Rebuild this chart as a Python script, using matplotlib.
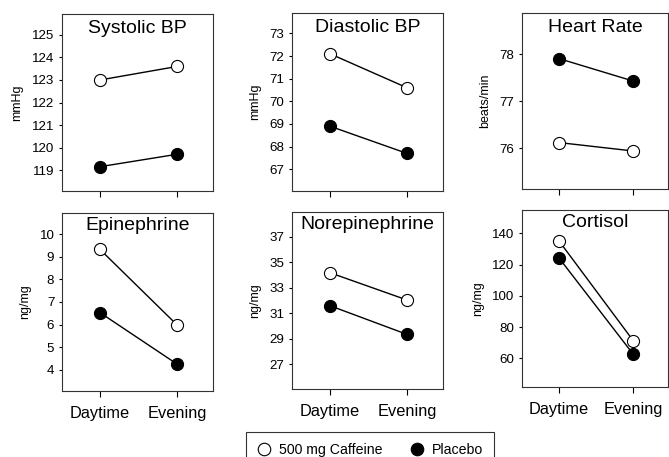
"""
    Caffeine vs placebo: daytime / evening means
"""

import matplotlib
matplotlib.use("Agg")
import matplotlib.pyplot as plt
from matplotlib.lines import Line2D

plt.rcParams['font.family'] = ['Liberation Sans', 'DejaVu Sans']

# Data
periods = ["Daytime", "Evening"]
titles = ["Systolic BP", "Diastolic BP", "Heart Rate",
          "Epinephrine", "Norepinephrine", "Cortisol"]
units = ["mmHg", "mmHg", "beats/min", "ng/mg", "ng/mg", "ng/mg"]
caffeine = [[123.0, 123.6], [72.1, 70.6], [76.12, 75.94],
            [9.32, 5.99], [34.17, 32.03], [135.3, 71.3]]
placebo = [[119.15, 119.7], [68.9, 67.7], [77.91, 77.43],
           [6.53, 4.26], [31.58, 29.33], [124.4, 62.6]]
yticks = [[119, 120, 121, 122, 123, 124, 125],
          [67, 68, 69, 70, 71, 72, 73],
          [76, 77, 78],
          [4, 5, 6, 7, 8, 9, 10],
          [27, 29, 31, 33, 35, 37],
          [60, 80, 100, 120, 140]]
ylims = [(118.07, 125.93), (66.04, 73.9), (75.13, 78.88),
         (3.07, 10.93), (25.04, 38.94), (41.6, 154.9)]

W, H = 669, 457
# axes boxes in pixels: left, top, right, bottom
boxes = [(62, 14, 213, 191), (292, 13, 443, 191), (522, 13, 668, 189),
         (62, 213, 213, 391), (292, 212, 443, 389), (522, 210, 668, 387)]

fig = plt.figure(figsize=(W / 100, H / 100), dpi=100)

for i in range(6):
    l, t, r, b = boxes[i]
    ax = fig.add_axes([l / W, 1 - b / H, (r - l) / W, (b - t) / H])
    x = range(len(periods))
    ax.plot(x, caffeine[i], color="black", lw=1, marker="o", ms=8.7,
            mfc="white", mec="black", mew=0.8, zorder=3)
    ax.plot(x, placebo[i], color="black", lw=1, marker="o", ms=8.7,
            mfc="black", mec="black", mew=0.8, zorder=3)
    ax.set_xlim(-0.494, 1.468)
    ax.set_ylim(*ylims[i])
    ax.set_yticks(yticks[i])
    ax.set_xticks(list(x))
    if i >= 3:
        ax.set_xticklabels(periods, fontsize=11.8)
    else:
        ax.set_xticklabels([])
    ax.tick_params(axis="x", length=4, width=0.8, pad=7)
    ax.tick_params(axis="y", length=2.5, width=0.8, labelsize=9.6, pad=3)
    for s in ax.spines.values():
        s.set_linewidth(0.8)
        s.set_color("#333333")
    ax.set_ylabel(units[i], fontsize=9, labelpad=6)
    ax.text(0.5, 0.92 if i < 3 else 0.93, titles[i], transform=ax.transAxes,
            ha="center", va="center", fontsize=14)

handles = [Line2D([], [], ls="none", marker="o", ms=9, mfc="white",
                  mec="black", mew=0.8),
           Line2D([], [], ls="none", marker="o", ms=9, mfc="black",
                  mec="black", mew=0.8)]
leg = fig.legend(handles, ["500 mg Caffeine", "Placebo"], ncol=2,
                 loc="upper left", bbox_to_anchor=(246 / W, 1 - 432 / H),
                 fontsize=10.2, frameon=True, fancybox=False, borderpad=0.8,
                 handlelength=1.0, handletextpad=0.5, columnspacing=2.0,
                 borderaxespad=0)
leg.get_frame().set_edgecolor("black")
leg.get_frame().set_linewidth(0.8)

fig.savefig("out.png", dpi=100)
